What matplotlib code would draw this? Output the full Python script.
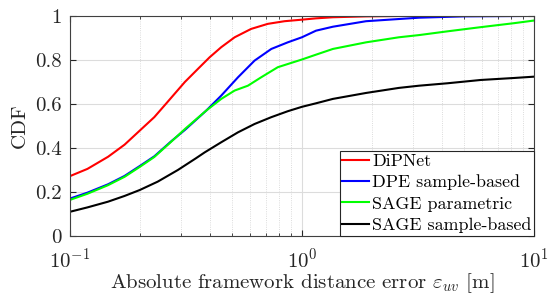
import numpy as np
import matplotlib.pyplot as plt

plt.rcParams['font.family'] = ['cmr10', 'DejaVu Serif']
plt.rcParams['mathtext.fontset'] = 'cm'
plt.rcParams['axes.formatter.use_mathtext'] = True

# CDF curves
x_red = [0.1, 0.119, 0.146, 0.172, 0.2, 0.231, 0.259, 0.282, 0.313, 0.356, 0.40, 0.449,
         0.513, 0.604, 0.713, 0.841, 1.0, 1.15, 1.36, 1.89, 2.8, 10]
y_red = [0.272, 0.305, 0.36, 0.415, 0.479, 0.540, 0.60, 0.645, 0.70, 0.759, 0.812, 0.858,
         0.903, 0.941, 0.964, 0.976, 0.983, 0.989, 0.994, 0.998, 1.0, 1.0]

x_blue = [0.1, 0.119, 0.146, 0.172, 0.2, 0.231, 0.273, 0.313, 0.387, 0.449, 0.53, 0.625,
          0.738, 0.869, 1.0, 1.15, 1.36, 1.89, 2.62, 3.2, 5.0, 10]
y_blue = [0.17, 0.197, 0.235, 0.273, 0.318, 0.362, 0.43, 0.482, 0.57, 0.638, 0.721, 0.797,
          0.85, 0.88, 0.903, 0.933, 0.951, 0.976, 0.986, 0.992, 0.998, 1.0]

x_green = [0.1, 0.119, 0.146, 0.172, 0.2, 0.231, 0.273, 0.313, 0.387, 0.449, 0.513, 0.585,
           0.667, 0.787, 1.0, 1.15, 1.36, 1.89, 2.62, 3.2, 4.24, 5.9, 8.2, 10]
y_green = [0.164, 0.192, 0.231, 0.269, 0.314, 0.359, 0.428, 0.486, 0.57, 0.623, 0.661, 0.683,
           0.721, 0.767, 0.802, 0.824, 0.85, 0.88, 0.903, 0.913, 0.93, 0.949, 0.967, 0.979]

x_black = [0.1, 0.119, 0.146, 0.172, 0.2, 0.239, 0.292, 0.349, 0.381, 0.449, 0.53, 0.625,
           0.738, 0.869, 1.0, 1.15, 1.36, 1.89, 2.62, 3.2, 4.24, 5.9, 8.2, 10]
y_black = [0.11, 0.13, 0.156, 0.182, 0.209, 0.247, 0.30, 0.353, 0.38, 0.426, 0.471, 0.509,
           0.54, 0.567, 0.587, 0.603, 0.623, 0.65, 0.673, 0.683, 0.694, 0.709, 0.718, 0.724]

labels = ['DiPNet', 'DPE sample-based', 'SAGE parametric', 'SAGE sample-based']

fig = plt.figure(figsize=(5.55, 2.95), dpi=100)
ax = fig.add_axes([0.126, 0.2, 0.836, 0.746])

ax.plot(x_red, y_red, color='#ff0000', lw=1.5, label=labels[0])
ax.plot(x_blue, y_blue, color='#0000ff', lw=1.5, label=labels[1])
ax.plot(x_green, y_green, color='#00ff00', lw=1.5, label=labels[2])
ax.plot(x_black, y_black, color='#000000', lw=1.5, label=labels[3])

ax.set_xscale('log')
ax.set_xlim(0.1, 10)
ax.set_ylim(0, 1)
ax.set_yticks([0, 0.2, 0.4, 0.6, 0.8, 1])
ax.set_yticklabels(['0', '0.2', '0.4', '0.6', '0.8', '1'])

ax.grid(True, which='major', color='#dcdcdc', lw=0.8, ls='-')
ax.grid(True, which='minor', color='#d0d0d0', lw=0.6, ls=':')
ax.set_axisbelow(True)

ax.tick_params(which='both', direction='in', top=True, right=True, colors='#262626', labelsize=15)
ax.tick_params(which='major', length=4)
ax.tick_params(which='minor', length=2.5)
ax.tick_params(axis='x', pad=8)
ax.tick_params(axis='y', pad=6)
for s in ax.spines.values():
    s.set_color('#404040')
    s.set_linewidth(0.8)

ax.set_xlabel(r'Absolute framework distance error $\varepsilon_{uv}$ [m]', fontsize=15,
              color='#262626', labelpad=0)
ax.set_ylabel('CDF', fontsize=15, color='#262626', labelpad=4)

leg = ax.legend(loc='lower right', fontsize=12.9, fancybox=False, framealpha=1,
                edgecolor='#262626', borderpad=0.15, labelspacing=0.32,
                handlelength=1.5, handletextpad=0.15, borderaxespad=0)
leg.get_frame().set_linewidth(0.8)

fig.savefig('out.png', dpi=100)
